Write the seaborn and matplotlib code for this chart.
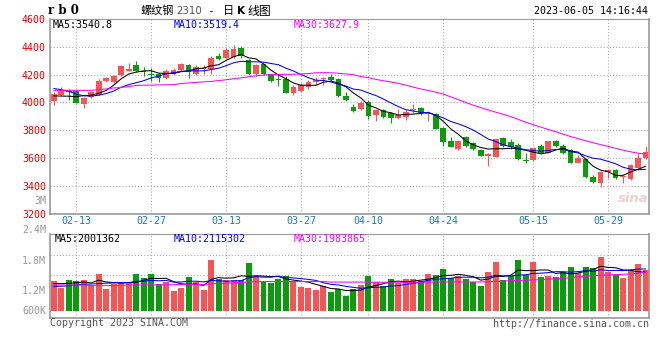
import matplotlib
matplotlib.use("Agg")
import matplotlib.pyplot as plt
import seaborn as sns
import pandas as pd

# rb0 日K线 2023-02-08 ~ 2023-06-05
dates = ["02-08", "02-09", "02-10", "02-13", "02-14", "02-15", "02-16", "02-17", "02-20", "02-21",
         "02-22", "02-23", "02-24", "02-27", "02-28", "03-01", "03-02", "03-03", "03-06", "03-07",
         "03-08", "03-09", "03-10", "03-13", "03-14", "03-15", "03-16", "03-17", "03-20", "03-21",
         "03-22", "03-23", "03-24", "03-27", "03-28", "03-29", "03-30", "03-31", "04-03", "04-04",
         "04-06", "04-07", "04-10", "04-11", "04-12", "04-13", "04-14", "04-17", "04-18", "04-19",
         "04-20", "04-21", "04-24", "04-25", "04-26", "04-27", "04-28", "05-04", "05-05", "05-08",
         "05-09", "05-10", "05-11", "05-12", "05-15", "05-16", "05-17", "05-18", "05-19", "05-22",
         "05-23", "05-24", "05-25", "05-26", "05-29", "05-30", "05-31", "06-01", "06-02", "06-05"]

open_ = [4012, 4052, 4078, 4080, 3990, 4038, 4055, 4155, 4146, 4196,
         4226, 4266, 4228, 4205, 4204, 4176, 4205, 4232, 4267, 4208,
         4242, 4244, 4333, 4321, 4328, 4388, 4304, 4201, 4273, 4201,
         4168, 4172, 4069, 4081, 4113, 4149, 4172, 4184, 4168, 4045,
         3969, 3950, 4005, 3910, 3945, 3921, 3890, 3898, 3947, 3957,
         3920, 3914, 3819, 3724, 3664, 3750, 3707, 3660, 3612, 3610,
         3745, 3712, 3693, 3583, 3586, 3686, 3640, 3724, 3686, 3657,
         3567, 3593, 3467, 3424, 3497, 3514, 3466, 3450, 3531, 3600]
high = [4072, 4108, 4100, 4084, 4036, 4080, 4168, 4182, 4200, 4268,
        4286, 4296, 4254, 4245, 4210, 4238, 4245, 4282, 4276, 4270,
        4272, 4333, 4352, 4388, 4412, 4405, 4311, 4280, 4280, 4205,
        4201, 4192, 4125, 4137, 4160, 4184, 4184, 4204, 4177, 4072,
        3986, 4012, 4021, 3950, 3952, 3929, 3950, 3945, 3988, 3969,
        3940, 3921, 3826, 3750, 3731, 3760, 3719, 3664, 3633, 3740,
        3748, 3736, 3710, 3633, 3676, 3700, 3724, 3733, 3700, 3662,
        3621, 3598, 3479, 3510, 3521, 3521, 3479, 3555, 3638, 3688]
low = [3980, 4048, 4018, 3993, 3960, 4034, 4050, 4150, 4140, 4190,
       4224, 4220, 4190, 4155, 4148, 4165, 4198, 4228, 4176, 4200,
       4205, 4201, 4304, 4311, 4316, 4316, 4196, 4192, 4196, 4148,
       4117, 4065, 4053, 4072, 4100, 4125, 4125, 4153, 4041, 4010,
       3929, 3945, 3881, 3867, 3886, 3855, 3881, 3874, 3921, 3910,
       3867, 3810, 3690, 3679, 3660, 3683, 3655, 3612, 3540, 3605,
       3681, 3662, 3586, 3562, 3581, 3629, 3638, 3681, 3629, 3562,
       3562, 3460, 3419, 3390, 3455, 3450, 3424, 3443, 3519, 3590]
close = [4060, 4082, 4074, 3998, 4032, 4073, 4152, 4175, 4188, 4260,
         4243, 4225, 4218, 4194, 4176, 4226, 4232, 4279, 4220, 4252,
         4250, 4321, 4311, 4376, 4383, 4335, 4201, 4268, 4201, 4153,
         4162, 4069, 4113, 4125, 4149, 4160, 4177, 4160, 4048, 4017,
         3938, 3998, 3905, 3945, 3893, 3890, 3910, 3933, 3952, 3921,
         3925, 3810, 3712, 3683, 3724, 3690, 3664, 3617, 3628, 3736,
         3690, 3682, 3593, 3578, 3670, 3634, 3721, 3688, 3640, 3567,
         3598, 3467, 3431, 3502, 3514, 3460, 3472, 3550, 3598, 3645]

ma5 = [4047, 4046, 4045, 4042, 4049, 4052, 4066, 4086, 4124, 4170,
       4204, 4218, 4227, 4228, 4211, 4208, 4209, 4221, 4227, 4242,
       4247, 4264, 4271, 4302, 4328, 4345, 4321, 4313, 4278, 4232,
       4197, 4171, 4140, 4124, 4124, 4123, 4145, 4154, 4139, 4112,
       4068, 4032, 3981, 3961, 3936, 3926, 3909, 3914, 3916, 3921,
       3928, 3908, 3864, 3810, 3771, 3724, 3695, 3676, 3665, 3667,
       3667, 3671, 3666, 3656, 3643, 3631, 3639, 3658, 3671, 3650,
       3643, 3592, 3541, 3513, 3502, 3475, 3476, 3500, 3519, 3541]
ma10 = [4100, 4092, 4080, 4060, 4048, 4046, 4052, 4064, 4082, 4109,
        4128, 4142, 4156, 4176, 4190, 4206, 4214, 4224, 4227, 4227,
        4227, 4237, 4246, 4264, 4285, 4296, 4293, 4292, 4290, 4280,
        4271, 4246, 4226, 4201, 4178, 4160, 4158, 4147, 4132, 4118,
        4096, 4089, 4068, 4050, 4024, 3997, 3970, 3948, 3938, 3929,
        3927, 3908, 3889, 3863, 3846, 3826, 3801, 3770, 3737, 3719,
        3695, 3683, 3671, 3660, 3655, 3649, 3655, 3662, 3663, 3646,
        3637, 3616, 3599, 3592, 3576, 3559, 3534, 3520, 3516, 3519]
ma30 = [4087, 4087, 4087, 4087, 4087, 4087, 4092, 4097, 4104, 4108,
        4114, 4122, 4124, 4125, 4126, 4127, 4128, 4136, 4140, 4144,
        4148, 4151, 4157, 4163, 4170, 4177, 4184, 4191, 4197, 4200,
        4201, 4202, 4203, 4204, 4208, 4213, 4214, 4213, 4210, 4205,
        4199, 4186, 4178, 4166, 4156, 4147, 4137, 4125, 4110, 4097,
        4086, 4074, 4060, 4040, 4020, 4000, 3980, 3962, 3946, 3930,
        3915, 3898, 3878, 3858, 3840, 3823, 3806, 3789, 3772, 3755,
        3740, 3725, 3710, 3697, 3684, 3670, 3657, 3645, 3635, 3628]

# 成交量 (千手)
volume = [1680, 1428, 1716, 1680, 1716, 1511, 1932, 1392, 1572, 1619,
          1619, 1932, 1799, 1932, 1572, 1655, 1320, 1428, 1824, 1644,
          1356, 2436, 1752, 1716, 1716, 1716, 2339, 1860, 1655, 1619,
          1752, 1860, 1680, 1464, 1428, 1356, 1500, 1295, 1392, 1140,
          1392, 1536, 1860, 1644, 1500, 1752, 1619, 1752, 1752, 1680,
          1932, 1896, 2112, 1799, 1860, 1752, 1644, 1500, 2004, 2364,
          1716, 1860, 2436, 1896, 2364, 1824, 1860, 1824, 2004, 2184,
          1957, 2184, 2148, 2555, 2004, 1896, 1788, 2076, 2292, 2076]
vma5 = [1580, 1585, 1595, 1620, 1644, 1610, 1711, 1646, 1625, 1605,
        1627, 1627, 1708, 1780, 1771, 1778, 1656, 1581, 1560, 1574,
        1514, 1738, 1802, 1781, 1795, 1867, 1848, 1869, 1857, 1838,
        1845, 1749, 1713, 1675, 1637, 1558, 1486, 1409, 1394, 1337,
        1344, 1351, 1464, 1514, 1586, 1658, 1675, 1653, 1675, 1711,
        1747, 1802, 1874, 1884, 1920, 1884, 1833, 1711, 1752, 1853,
        1846, 1889, 2076, 2054, 2054, 2076, 2076, 1954, 1975, 1939,
        1966, 2031, 2095, 2206, 2170, 2157, 2078, 2064, 2011, 2001]
vma10 = [1480, 1490, 1510, 1540, 1560, 1570, 1590, 1600, 1610, 1625,
         1619, 1669, 1677, 1702, 1688, 1702, 1641, 1645, 1670, 1673,
         1646, 1697, 1692, 1670, 1685, 1691, 1793, 1836, 1819, 1817,
         1856, 1799, 1791, 1766, 1737, 1701, 1617, 1561, 1535, 1487,
         1451, 1418, 1436, 1454, 1462, 1501, 1513, 1559, 1595, 1649,
         1703, 1739, 1764, 1779, 1815, 1815, 1818, 1793, 1818, 1886,
         1865, 1861, 1894, 1903, 1954, 1961, 1982, 2015, 2015, 1997,
         2021, 2053, 2025, 2090, 2054, 2062, 2054, 2080, 2108, 2115]
vma30 = [1535, 1535, 1535, 1535, 1535, 1515, 1515, 1515, 1515, 1515,
         1540, 1540, 1540, 1540, 1540, 1540, 1550, 1550, 1550, 1550,
         1550, 1580, 1595, 1605, 1615, 1625, 1645, 1655, 1660, 1660,
         1660, 1660, 1660, 1660, 1660, 1660, 1660, 1640, 1640, 1640,
         1640, 1640, 1635, 1635, 1635, 1635, 1635, 1635, 1635, 1635,
         1635, 1645, 1645, 1645, 1645, 1645, 1645, 1645, 1655, 1665,
         1675, 1690, 1700, 1710, 1716, 1730, 1745, 1760, 1777, 1800,
         1825, 1850, 1870, 1890, 1900, 1910, 1920, 1935, 1960, 1984]

tick_dates = ["02-13", "02-27", "03-13", "03-27", "04-10", "04-24", "05-15", "05-29"]
price_ticks = [3200, 3400, 3600, 3800, 4000, 4200, 4400, 4600]
vol_grid = [1176, 1896, 2616]
vol_labels = ["2.4M", "1.8M", "1.2M", "600K"]
vol_floor = 600

sns.set_theme(style="white")
plt.rcParams['font.family'] = ['DejaVu Sans Mono', 'Noto Sans CJK SC']

RED = '#f45656'
GREEN = '#0a9c0a'
GRID = '#a8a8a8'
FRAME = '#9a9a9a'

df = pd.DataFrame({'date': dates, 'open': open_, 'high': high, 'low': low, 'close': close,
                   'ma5': ma5, 'ma10': ma10, 'ma30': ma30,
                   'vol': volume, 'vma5': vma5, 'vma10': vma10, 'vma30': vma30})
df['idx'] = range(len(df))
df['color'] = [RED if c >= o else GREEN for o, c in zip(df.open, df.close)]
tick_pos = [dates.index(d) for d in tick_dates]

W, H = 660, 360
fig = plt.figure(figsize=(W / 100, H / 100), dpi=100)


def box(x0, y0, x1, y1):
    return [x0 / W, 1 - y1 / H, (x1 - x0) / W, (y1 - y0) / H]


def put(x, y, s, **kw):
    kw.setdefault('va', 'center')
    kw.setdefault('fontsize', 7.2)
    fig.text(x / W, 1 - y / H, s, **kw)


def frame(ax):
    for side in ['left', 'bottom', 'right']:
        ax.spines[side].set_color(FRAME)
        ax.spines[side].set_linewidth(1.2)
    ax.spines['top'].set_color(FRAME)
    ax.spines['top'].set_linewidth(0.8)
    ax.set_axisbelow(True)
    ax.grid(True, color=GRID, linestyle=(0, (1, 2)), linewidth=0.75)


# K线
ax = fig.add_axes(box(50, 19, 649.3, 213.7))
frame(ax)
ax.vlines(df.idx, df.low, df.high, colors=df.color, linewidth=0.8, zorder=2)
body = (df.close - df.open).abs().clip(lower=7)
ax.bar(df.idx, body, bottom=df[['open', 'close']].min(axis=1), width=0.76,
       color=df.color, linewidth=0, zorder=2)
for col, c in [('ma5', 'black'), ('ma10', '#0000ff'), ('ma30', '#ff00ff')]:
    sns.lineplot(data=df, x='idx', y=col, ax=ax, color=c, linewidth=0.75,
                 estimator=None, legend=False, zorder=3)
ax.set_xlim(-0.5, len(df) - 0.5)
ax.set_ylim(3200, 4600)
ax.set_yticks(price_ticks)
ax.set_xticks(tick_pos)
ax.set_xticklabels(tick_dates)
ax.set_xlabel('')
ax.set_ylabel('')
ax.tick_params(axis='y', length=0, pad=3, labelsize=7.2, labelcolor='#e00000')
ax.tick_params(axis='x', length=0, pad=1.5, labelsize=7.2, labelcolor='#1478c8')

# 成交量
vax = fig.add_axes(box(50, 234.3, 649.3, 317.7))
frame(vax)
vax.bar(df.idx, df.vol - vol_floor, bottom=vol_floor, width=0.8,
        color=df.color, linewidth=0, zorder=2)
for col, c in [('vma5', 'black'), ('vma10', '#0000ff'), ('vma30', '#ff00ff')]:
    sns.lineplot(data=df, x='idx', y=col, ax=vax, color=c, linewidth=0.75,
                 estimator=None, legend=False, zorder=3)
vax.set_xlim(-0.5, len(df) - 0.5)
vax.set_ylim(359, 3361)
vax.set_yticks(vol_grid)
vax.set_xticks(tick_pos)
vax.set_xticklabels([])
vax.set_yticklabels([])
vax.set_xlabel('')
vax.set_ylabel('')
vax.tick_params(length=0)

# 文字
put(48, 11, "r b 0", fontsize=8.5, fontweight='bold', family=['DejaVu Serif'], color='black')
put(140, 11, "螺纹钢", family=['Noto Sans CJK SC'], fontsize=8, color='black')
put(176, 11.5, "2310", family=['DejaVu Sans'], fontsize=7.4, color='#555555')
put(210, 11, "-", family=['DejaVu Sans Mono'], fontsize=8, color='black', ha='center')
put(223, 11, "日", family=['Noto Sans CJK SC'], fontsize=8, color='black')
put(236.5, 11, "K", family=['DejaVu Sans'], fontsize=7.6, fontweight='bold', color='black')
put(247.5, 11, "线图", family=['Noto Sans CJK SC'], fontsize=8.6, color='black')
put(648, 11, "2023-06-05 14:16:44", ha='right', color='black')

put(53, 25, "MA5:3540.8", color='black')
put(174, 25, "MA10:3519.4", color='#0000ff')
put(294, 25, "MA30:3627.9", color='#ff00ff')

put(46, 200.7, "3M", ha='right', color='#999999')
put(633, 199, "sina", fontsize=9.5, style='italic', fontweight='bold', family=['DejaVu Sans'],
    color='#ecd0d0', ha='center')

for lab, y in zip(vol_labels, [230, 261, 291, 311]):
    put(46, y, lab, ha='right', color='#999999')

put(55, 238.5, "MA5:2001362", color='black')
put(174, 238.5, "MA10:2115302", color='#0000ff')
put(294, 238.5, "MA30:1983865", color='#ff00ff')

put(50, 323.5, "Copyright 2023 SINA.COM", color='#555555')
put(649, 324, "http://finance.sina.com.cn", ha='right', color='#555555')

fig.savefig("out.png", dpi=100)
